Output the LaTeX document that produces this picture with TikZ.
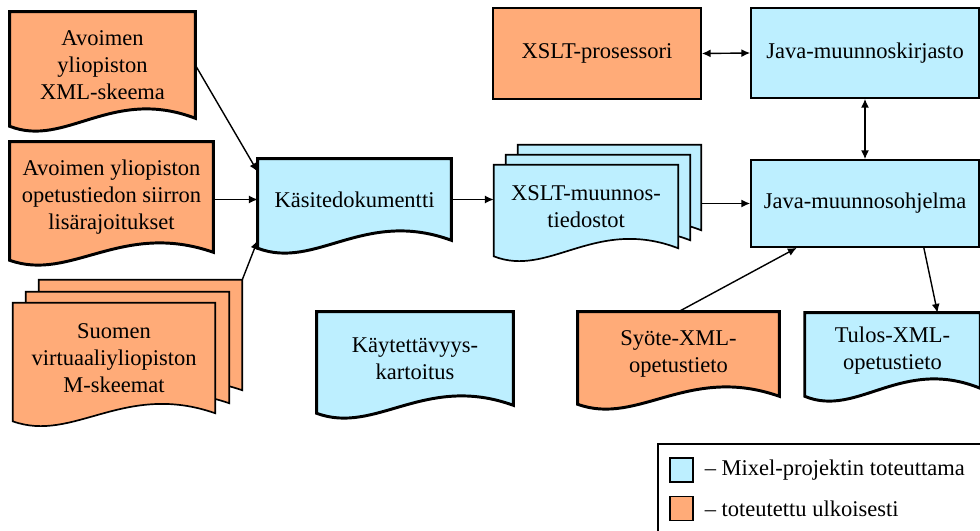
\documentclass[tikz,border=0pt]{standalone}
\usepackage{fontspec}
\setmainfont{Liberation Serif}
\usepackage{xcolor}
\usetikzlibrary{
    arrows.meta,
    calc
}

\definecolor{oranssi}{RGB}{255,171,120}
\definecolor{sininen}{RGB}{189,239,255}

\pgfdeclarelayer{tausta}
\pgfsetlayers{tausta,main}

% asiakirja: solmun ympärille reunus, jonka alareuna aaltoilee
\newcommand{\paperi}[3]{%
    \begin{pgfonlayer}{tausta}
    \draw[fill=#2, line width=#3] (#1.south east) -- (#1.north east) -- (#1.north west) -- ($(#1.south west)+(0,8)$)
        .. controls ($(#1.south west)!0.3!(#1.south east)+(0,30)$) and ($(#1.south west)!0.55!(#1.south east)+(0,-32)$) .. (#1.south east) -- cycle;
    \end{pgfonlayer}}

\begin{document}
\begin{tikzpicture}[x=0.025cm, y=-0.025cm, font=\fontsize{16}{19}\selectfont,
    koko/.style 2 args={minimum width=#1*0.025cm, minimum height=#2*0.025cm, inner sep=0pt, align=center},
    laatikko/.style={draw, line width=1.2pt},
    nuoli/.style={-{Latex[length=0.22cm, width=0.2cm]}, line width=1pt},
    molemmat/.style={{Latex[length=0.22cm, width=0.2cm]}-{Latex[length=0.22cm, width=0.2cm]}, line width=1pt}]
            \useasboundingbox (0, 0) rectangle (980, 531);

            % vasen sarake
            \node[koko={185}{106}] (avoxml) at (102.5, 65) {Avoimen\\yliopiston\\XML-skeema};
            \node[koko={203}{110}] (avoraj) at (111.5, 197) {Avoimen yliopiston\\opetustiedon siirron\\lisärajoitukset};
            \node[koko={203}{110}] (suomen3) at (140.5, 335) {};
            \node[koko={203}{111}] (suomen2) at (127.5, 347.5) {};
            \node[koko={202}{110}] (suomen1) at (114, 358) {Suomen\\virtuaaliyliopiston\\M-skeemat};
            \paperi{avoxml}{oranssi}{2.1pt}
            \paperi{avoraj}{oranssi}{2.1pt}
            \paperi{suomen3}{oranssi}{1.2pt}
            \paperi{suomen2}{oranssi}{1.2pt}
            \paperi{suomen1}{oranssi}{1.2pt}

            % keskimmäiset asiakirjat
            \node[koko={193}{81}] (kasite) at (354.5, 199.5) {Käsitedokumentti};
            \node[koko={183}{85}] (xslt3) at (609.5, 187.5) {};
            \node[koko={184}{85}] (xslt2) at (598, 197.5) {};
            \node[koko={184}{83}] (xslt1) at (586, 206.5) {XSLT-muunnos-\\tiedostot};
            \paperi{kasite}{sininen}{2.1pt}
            \paperi{xslt3}{sininen}{1.2pt}
            \paperi{xslt2}{sininen}{1.2pt}
            \paperi{xslt1}{sininen}{1.2pt}

            % java ja prosessori
            \node[koko={208}{91}, laatikko, fill=oranssi] (xsltproc) at (597, 53.5) {XSLT-prosessori};
            \node[koko={228}{90}, laatikko, fill=sininen] (javakirj) at (865, 53) {Java-muunnoskirjasto};
            \node[koko={228}{87}, laatikko, fill=sininen] (javaohj) at (865, 203.5) {Java-muunnosohjelma};

            % alarivi
            \node[koko={196}{93}] (kaytet) at (415, 358.5) {Käytettävyys-\\kartoitus};
            \node[koko={201}{84}] (syote) at (678.5, 354) {Syöte-XML-\\opetustieto};
            \node[koko={175}{75}] (tulos) at (892.5, 350.5) {Tulos-XML-\\opetustieto};
            \paperi{kaytet}{sininen}{2.1pt}
            \paperi{syote}{oranssi}{2.1pt}
            \paperi{tulos}{sininen}{2.1pt}

            % yhteydet
            \draw[nuoli] (avoxml.east) -- (kasite.164);
            \draw[nuoli] (avoraj.east |- kasite.west) -- (kasite.west);
            \draw[nuoli] (suomen3.north east) -- (kasite.south west);
            \draw[nuoli] (kasite.east) -- (kasite.east -| xslt1.west);
            \draw[nuoli] (xslt3.east |- javaohj.west) -- (javaohj.west);
            \draw[molemmat] (xsltproc.east) -- (javakirj.west);
            \draw[molemmat] (javakirj.south) -- (javaohj.north);
            \draw[nuoli] (syote.north) -- (javaohj.213);
            \draw[nuoli] (javaohj.323) -- (tulos.40);

            % selite
            \draw[line width=1.2pt, fill=white] (658, 444) rectangle (984, 540);
            \node[koko={23}{24}, laatikko, fill=sininen] (selite1) at (681.5, 470) {};
            \node[koko={23}{24}, laatikko, fill=oranssi] (selite2) at (681.5, 508.5) {};
            \node[anchor=west] (selite1teksti) at ([xshift=0.15cm]selite1.east) {– Mixel-projektin toteuttama};
            \node[anchor=west] (selite2teksti) at ([xshift=0.15cm]selite2.east) {– toteutettu ulkoisesti};
        \end{tikzpicture}
\end{document}
